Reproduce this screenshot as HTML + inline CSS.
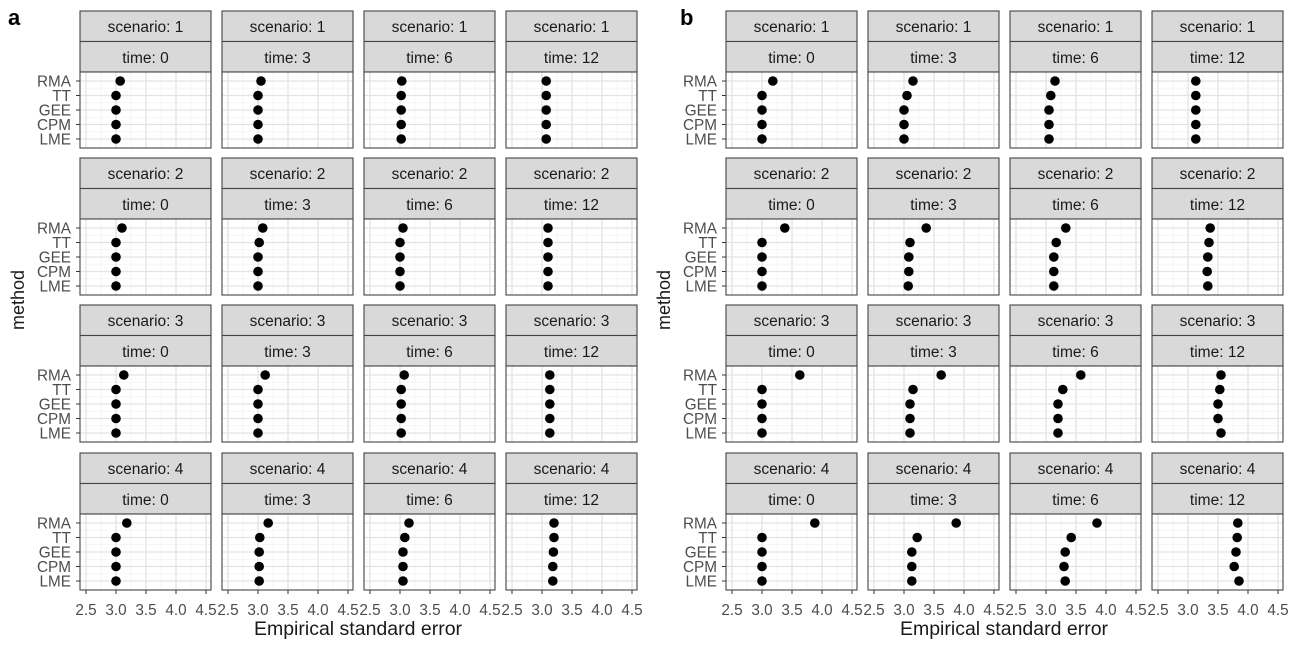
<!DOCTYPE html>
<html><head><meta charset="utf-8"><style>
body{margin:0;background:#fff;}
svg{display:block;font-family:"Liberation Sans",sans-serif;}
.st{font-size:15.5px;fill:#1a1a1a;text-anchor:middle;}
.yl{font-size:15.3px;fill:#4d4d4d;text-anchor:end;}
.xl{font-size:15.3px;fill:#4d4d4d;text-anchor:middle;}
</style></head><body>
<svg id="s" width="1301" height="646" viewBox="0 0 1301 646" xmlns="http://www.w3.org/2000/svg">
<rect width="1301" height="646" fill="#fff"/>
<g id="g"></g>
<text x="8" y="25" font-size="22" font-weight="bold">a</text>
<text x="680" y="25" font-size="22" font-weight="bold">b</text>
<text transform="translate(24,300) rotate(-90)" font-size="18" text-anchor="middle" fill="#1a1a1a">method</text>
<text transform="translate(670,300) rotate(-90)" font-size="18" text-anchor="middle" fill="#1a1a1a">method</text>
<text x="358" y="635" font-size="19.5" text-anchor="middle" fill="#1a1a1a">Empirical standard error</text>
<text x="1004" y="635" font-size="19.5" text-anchor="middle" fill="#1a1a1a">Empirical standard error</text>

<g class="st">
<text x="145.5" y="32">scenario: 1</text><text x="287.5" y="32">scenario: 1</text><text x="429.5" y="32">scenario: 1</text><text x="571.5" y="32">scenario: 1</text>
<text x="791.5" y="32">scenario: 1</text><text x="933.5" y="32">scenario: 1</text><text x="1075.5" y="32">scenario: 1</text><text x="1217.5" y="32">scenario: 1</text>
<text x="145.5" y="63">time: 0</text><text x="287.5" y="63">time: 3</text><text x="429.5" y="63">time: 6</text><text x="571.5" y="63">time: 12</text>
<text x="791.5" y="63">time: 0</text><text x="933.5" y="63">time: 3</text><text x="1075.5" y="63">time: 6</text><text x="1217.5" y="63">time: 12</text>

<text x="145.5" y="179">scenario: 2</text><text x="287.5" y="179">scenario: 2</text><text x="429.5" y="179">scenario: 2</text><text x="571.5" y="179">scenario: 2</text>
<text x="791.5" y="179">scenario: 2</text><text x="933.5" y="179">scenario: 2</text><text x="1075.5" y="179">scenario: 2</text><text x="1217.5" y="179">scenario: 2</text>
<text x="145.5" y="210">time: 0</text><text x="287.5" y="210">time: 3</text><text x="429.5" y="210">time: 6</text><text x="571.5" y="210">time: 12</text>
<text x="791.5" y="210">time: 0</text><text x="933.5" y="210">time: 3</text><text x="1075.5" y="210">time: 6</text><text x="1217.5" y="210">time: 12</text>

<text x="145.5" y="326">scenario: 3</text><text x="287.5" y="326">scenario: 3</text><text x="429.5" y="326">scenario: 3</text><text x="571.5" y="326">scenario: 3</text>
<text x="791.5" y="326">scenario: 3</text><text x="933.5" y="326">scenario: 3</text><text x="1075.5" y="326">scenario: 3</text><text x="1217.5" y="326">scenario: 3</text>
<text x="145.5" y="357">time: 0</text><text x="287.5" y="357">time: 3</text><text x="429.5" y="357">time: 6</text><text x="571.5" y="357">time: 12</text>
<text x="791.5" y="357">time: 0</text><text x="933.5" y="357">time: 3</text><text x="1075.5" y="357">time: 6</text><text x="1217.5" y="357">time: 12</text>

<text x="145.5" y="474">scenario: 4</text><text x="287.5" y="474">scenario: 4</text><text x="429.5" y="474">scenario: 4</text><text x="571.5" y="474">scenario: 4</text>
<text x="791.5" y="474">scenario: 4</text><text x="933.5" y="474">scenario: 4</text><text x="1075.5" y="474">scenario: 4</text><text x="1217.5" y="474">scenario: 4</text>
<text x="145.5" y="505">time: 0</text><text x="287.5" y="505">time: 3</text><text x="429.5" y="505">time: 6</text><text x="571.5" y="505">time: 12</text>
<text x="791.5" y="505">time: 0</text><text x="933.5" y="505">time: 3</text><text x="1075.5" y="505">time: 6</text><text x="1217.5" y="505">time: 12</text>
</g>

<g class="yl">
<text x="71" y="86.5">RMA</text><text x="71" y="101">TT</text><text x="71" y="115.5">GEE</text><text x="71" y="130">CPM</text><text x="71" y="144.5">LME</text>
<text x="71" y="233.5">RMA</text><text x="71" y="248">TT</text><text x="71" y="262.5">GEE</text><text x="71" y="277">CPM</text><text x="71" y="291.5">LME</text>
<text x="71" y="380.5">RMA</text><text x="71" y="395">TT</text><text x="71" y="409.5">GEE</text><text x="71" y="424">CPM</text><text x="71" y="438.5">LME</text>
<text x="71" y="528.5">RMA</text><text x="71" y="543">TT</text><text x="71" y="557.5">GEE</text><text x="71" y="572">CPM</text><text x="71" y="586.5">LME</text>
<text x="717" y="86.5">RMA</text><text x="717" y="101">TT</text><text x="717" y="115.5">GEE</text><text x="717" y="130">CPM</text><text x="717" y="144.5">LME</text>
<text x="717" y="233.5">RMA</text><text x="717" y="248">TT</text><text x="717" y="262.5">GEE</text><text x="717" y="277">CPM</text><text x="717" y="291.5">LME</text>
<text x="717" y="380.5">RMA</text><text x="717" y="395">TT</text><text x="717" y="409.5">GEE</text><text x="717" y="424">CPM</text><text x="717" y="438.5">LME</text>
<text x="717" y="528.5">RMA</text><text x="717" y="543">TT</text><text x="717" y="557.5">GEE</text><text x="717" y="572">CPM</text><text x="717" y="586.5">LME</text>
</g>

<g class="xl">
<text x="86" y="615">2.5</text><text x="116" y="615">3.0</text><text x="146" y="615">3.5</text><text x="176" y="615">4.0</text><text x="206" y="615">4.5</text>
<text x="228" y="615">2.5</text><text x="258" y="615">3.0</text><text x="288" y="615">3.5</text><text x="318" y="615">4.0</text><text x="348" y="615">4.5</text>
<text x="370" y="615">2.5</text><text x="400" y="615">3.0</text><text x="430" y="615">3.5</text><text x="460" y="615">4.0</text><text x="490" y="615">4.5</text>
<text x="512" y="615">2.5</text><text x="542" y="615">3.0</text><text x="572" y="615">3.5</text><text x="602" y="615">4.0</text><text x="632" y="615">4.5</text>
<text x="732" y="615">2.5</text><text x="762" y="615">3.0</text><text x="792" y="615">3.5</text><text x="822" y="615">4.0</text><text x="852" y="615">4.5</text>
<text x="874" y="615">2.5</text><text x="904" y="615">3.0</text><text x="934" y="615">3.5</text><text x="964" y="615">4.0</text><text x="994" y="615">4.5</text>
<text x="1016" y="615">2.5</text><text x="1046" y="615">3.0</text><text x="1076" y="615">3.5</text><text x="1106" y="615">4.0</text><text x="1136" y="615">4.5</text>
<text x="1158" y="615">2.5</text><text x="1188" y="615">3.0</text><text x="1218" y="615">3.5</text><text x="1248" y="615">4.0</text><text x="1278" y="615">4.5</text>
</g>
</svg>
<script>
var NS="http://www.w3.org/2000/svg",g=document.getElementById("g");
function el(t,a){var e=document.createElementNS(NS,t);for(var k in a)e.setAttribute(k,a[k]);g.appendChild(e);return e;}
var tops=[11,158,305,453];
var cols=[80,222,364,506,726,868,1010,1152];
var A=[
[[3.07,3,3,3,3],[3.05,3,3,3,3],[3.03,3.02,3.02,3.02,3.02],[3.07,3.07,3.07,3.07,3.07]],
[[3.1,3,3,3,3],[3.08,3.02,3,3,3],[3.05,3,3,3,3],[3.1,3.1,3.1,3.1,3.1]],
[[3.13,3,3,3,3],[3.12,3,3,3,3],[3.07,3.02,3.02,3.02,3.02],[3.13,3.13,3.13,3.13,3.13]],
[[3.18,3,3,3,3],[3.17,3.03,3.02,3.02,3.02],[3.15,3.08,3.05,3.05,3.05],[3.2,3.2,3.19,3.18,3.18]]];
var B=[
[[3.18,3,3,3,3],[3.15,3.05,3,3,3],[3.15,3.08,3.05,3.05,3.05],[3.13,3.13,3.13,3.13,3.13]],
[[3.38,3,3,3,3],[3.37,3.1,3.08,3.08,3.07],[3.33,3.17,3.13,3.13,3.13],[3.37,3.35,3.33,3.32,3.33]],
[[3.63,3,3,3,3],[3.62,3.15,3.1,3.1,3.1],[3.58,3.28,3.2,3.2,3.2],[3.55,3.53,3.5,3.5,3.55]],
[[3.88,3,3,3,3],[3.87,3.22,3.13,3.13,3.13],[3.85,3.42,3.32,3.3,3.32],[3.83,3.82,3.8,3.77,3.85]]];
for(var r=0;r<4;r++)for(var c=0;c<8;c++){
 var L=cols[c],T=tops[r],W=131,pT=T+61,pB=T+137;
 el("rect",{x:L,y:T,width:W,height:30.5,fill:"#d9d9d9",stroke:"#444","stroke-width":1.1});
 el("rect",{x:L,y:T+30.5,width:W,height:30.5,fill:"#d9d9d9",stroke:"#444","stroke-width":1.1});
 el("rect",{x:L,y:pT,width:W,height:76,fill:"#fff"});
 for(var v=2.75;v<4.6;v+=0.5){var x=L+6+(v-2.5)*60;el("line",{x1:x,x2:x,y1:pT,y2:pB,stroke:"#f2f2f2","stroke-width":0.8});}
 for(var i=0;i<4;i++){var y=pT+9+14.5*i+7.25;el("line",{x1:L,x2:L+W,y1:y,y2:y,stroke:"#f2f2f2","stroke-width":0.8});}
 for(var v=2.5;v<4.6;v+=0.5){var x=L+6+(v-2.5)*60;el("line",{x1:x,x2:x,y1:pT,y2:pB,stroke:"#e3e3e3","stroke-width":1.3});
  if(r==3)el("line",{x1:x,x2:x,y1:pB,y2:pB+4,stroke:"#333","stroke-width":1});}
 for(var i=0;i<5;i++){var y=pT+9+14.5*i;el("line",{x1:L,x2:L+W,y1:y,y2:y,stroke:"#e3e3e3","stroke-width":1.3});
  if(c==0||c==4)el("line",{x1:L-4,x2:L,y1:y,y2:y,stroke:"#333","stroke-width":1});}
 var d=(c<4?A:B)[r][c%4];
 for(var i=0;i<5;i++)el("circle",{cx:L+6+(d[i]-2.5)*60,cy:pT+9+14.5*i,r:4.8,fill:"#000"});
 el("rect",{x:L,y:pT,width:W,height:76,fill:"none",stroke:"#444","stroke-width":1.1});
}
</script>
</body></html>
